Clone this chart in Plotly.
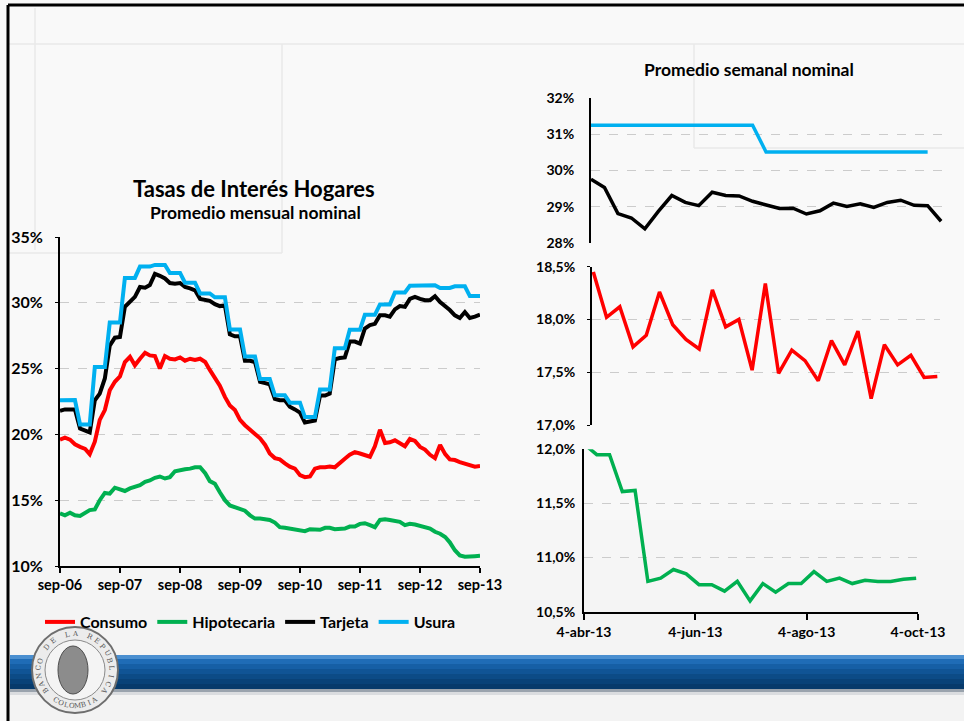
import numpy as np
import pandas as pd
import plotly.graph_objects as go

W, H = 964, 721

# --- monthly data (sep-06 .. sep-13), % nominal ---
meses = pd.date_range("2006-09-01", "2013-09-01", freq="MS")

consumo = [19.6, 19.75, 19.6, 19.25, 19.05, 18.9, 18.5, 19.45, 21.1, 21.85,
           23.35, 24.0, 24.4, 25.5, 25.9, 25.25, 25.75, 26.2, 26.0, 25.95,
           25.0, 25.95, 25.75, 25.7, 25.85, 25.6, 25.75, 25.65, 25.75, 25.5,
           24.9, 24.35, 23.7, 22.85, 22.2, 21.85, 21.1, 20.7, 20.35, 20.0,
           19.7, 19.2, 18.55, 18.2, 18.1, 17.8, 17.55, 17.4, 16.9, 16.75,
           16.8, 17.4, 17.5, 17.5, 17.55, 17.5, 17.85, 18.15, 18.45, 18.65,
           18.55, 18.45, 18.3, 19.1, 20.35, 19.35, 19.4, 19.55, 19.35, 19.1,
           19.65, 19.5, 19.05, 18.85, 18.45, 18.2, 19.2, 18.5, 18.1, 18.05,
           17.9, 17.8, 17.65, 17.55, 17.6]

hipotecaria = [14.0, 13.85, 14.05, 13.85, 13.8, 14.0, 14.25, 14.3, 15.0, 15.55,
               15.5, 15.95, 15.8, 15.7, 15.9, 16.0, 16.15, 16.4, 16.5, 16.7,
               16.8, 16.65, 16.75, 17.2, 17.3, 17.35, 17.4, 17.5, 17.5, 17.05,
               16.45, 16.25, 15.6, 15.0, 14.6, 14.45, 14.3, 14.2, 13.85, 13.6,
               13.6, 13.55, 13.5, 13.3, 12.95, 12.9, 12.85, 12.8, 12.75, 12.65,
               12.8, 12.8, 12.75, 12.9, 12.9, 12.8, 12.8, 12.85, 13.0, 13.0,
               13.2, 13.25, 13.1, 12.95, 13.5, 13.55, 13.5, 13.45, 13.35, 13.1,
               13.2, 13.15, 13.05, 12.95, 12.85, 12.6, 12.45, 12.2, 11.8, 11.2,
               10.8, 10.7, 10.7, 10.75, 10.78]

tarjeta = [21.8, 21.9, 21.9, 21.9, 20.45, 20.25, 20.15, 22.6, 23.1, 24.25,
           26.75, 27.35, 27.4, 29.7, 30.05, 30.45, 31.2, 31.15, 31.35, 32.2,
           32.05, 31.85, 31.5, 31.45, 31.5, 31.2, 31.1, 30.95, 30.3, 30.25,
           30.15, 29.9, 29.75, 29.8, 27.6, 27.45, 27.45, 25.6, 25.6, 25.5,
           24.0, 23.9, 23.8, 22.7, 22.6, 22.6, 22.1, 21.9, 21.65, 20.9,
           20.95, 21.05, 22.95, 22.95, 23.1, 25.7, 25.8, 25.85, 27.05, 27.05,
           26.9, 28.05, 28.3, 28.4, 29.05, 29.05, 28.95, 29.5, 29.75, 29.7,
           30.3, 30.45, 30.3, 30.2, 30.2, 30.5, 30.05, 29.75, 29.45, 29.05,
           28.85, 29.3, 28.85, 28.95, 29.1]

usura = [22.6, 22.61, 22.61, 22.61, 20.75, 20.75, 20.75, 25.12, 25.12, 25.12,
         28.51, 28.51, 28.51, 31.89, 31.89, 31.89, 32.75, 32.75, 32.75, 32.88,
         32.88, 32.88, 32.27, 32.27, 32.27, 31.53, 31.53, 31.53, 30.71, 30.71,
         30.71, 30.42, 30.42, 30.42, 27.98, 27.98, 27.98, 25.92, 25.92, 25.92,
         24.21, 24.21, 24.21, 22.97, 22.97, 22.97, 22.41, 22.41, 22.41, 21.32,
         21.32, 21.32, 23.42, 23.42, 23.42, 26.54, 26.54, 26.54, 27.95, 27.95,
         27.95, 29.09, 29.09, 29.09, 29.88, 29.88, 29.88, 30.78, 30.78, 30.78,
         31.29, 31.29, 31.29, 31.34, 31.34, 31.34, 31.13, 31.13, 31.13, 31.25,
         31.25, 31.25, 30.51, 30.51, 30.51]

anios = ["2006-09-01", "2007-09-01", "2008-09-01", "2009-09-01",
         "2010-09-01", "2011-09-01", "2012-09-01", "2013-09-01"]
anios_txt = ["sep-06", "sep-07", "sep-08", "sep-09", "sep-10", "sep-11", "sep-12", "sep-13"]

# --- weekly data (4-abr-13 .. oct-13) ---
semanas = pd.date_range("2013-04-04", periods=27, freq="7D")

usura_sem = [31.25, 31.25, 31.25, 31.25, 31.25, 31.25, 31.25, 31.25, 31.25,
             31.25, 31.25, 31.25, 31.25, 30.51, 30.51, 30.51, 30.51, 30.51,
             30.51, 30.51, 30.51, 30.51, 30.51, 30.51, 30.51, 30.51]
tarjeta_sem = [29.76, 29.53, 28.81, 28.69, 28.39, 28.87, 29.31, 29.12, 29.03,
               29.4, 29.31, 29.3, 29.15, 29.06, 28.95, 28.96, 28.8, 28.89,
               29.1, 29.01, 29.08, 28.98, 29.12, 29.18, 29.04, 29.03, 28.6]
consumo_sem = [18.45, 18.02, 18.12, 17.74, 17.85, 18.26, 17.95, 17.81, 17.72,
               18.28, 17.93, 18.0, 17.52, 18.34, 17.49, 17.71, 17.61, 17.42,
               17.8, 17.57, 17.89, 17.25, 17.76, 17.57, 17.66, 17.45, 17.46]
hipotecaria_sem = [12.05, 11.95, 11.95, 11.61, 11.62, 10.78, 10.81, 10.89, 10.85,
                   10.75, 10.75, 10.69, 10.78, 10.60, 10.76, 10.68, 10.76, 10.76,
                   10.87, 10.78, 10.81, 10.76, 10.79, 10.78, 10.78, 10.80, 10.81]

fechas_tick = ["2013-04-04", "2013-06-04", "2013-08-04", "2013-10-04"]
fechas_txt = ["4-abr-13", "4-jun-13", "4-ago-13", "4-oct-13"]

ROJO, VERDE, NEGRO, AZUL = "#ff0000", "#00b050", "#000000", "#00b0f0"
FONT = "Lato"


def px_x(p):
    return p / W


def px_y(p):
    return 1 - p / H


def texto(fig, s, x, y, size, **kw):
    fig.add_annotation(text=s, x=px_x(x), y=px_y(y), xref="paper", yref="paper",
                       xanchor="center", yanchor="middle", showarrow=False,
                       font=dict(family=FONT, size=size, color="black", weight="bold"), **kw)


fig = go.Figure()

# left chart
for nombre, serie, color in [("Consumo", consumo, ROJO), ("Hipotecaria", hipotecaria, VERDE),
                             ("Tarjeta", tarjeta, NEGRO), ("Usura", usura, AZUL)]:
    fig.add_trace(go.Scatter(x=meses, y=serie, name=nombre, mode="lines",
                             line=dict(color=color, width=4), xaxis="x", yaxis="y"))

# right panels
fig.add_trace(go.Scatter(x=semanas[:len(usura_sem)], y=usura_sem, mode="lines", showlegend=False,
                         line=dict(color=AZUL, width=3.5), xaxis="x2", yaxis="y2"))
fig.add_trace(go.Scatter(x=semanas, y=tarjeta_sem, mode="lines", showlegend=False,
                         line=dict(color=NEGRO, width=3.5), xaxis="x2", yaxis="y2"))
fig.add_trace(go.Scatter(x=semanas, y=consumo_sem, mode="lines", showlegend=False,
                         line=dict(color=ROJO, width=3.5), xaxis="x3", yaxis="y3"))
fig.add_trace(go.Scatter(x=semanas, y=hipotecaria_sem, mode="lines", showlegend=False,
                         line=dict(color=VERDE, width=3.5), xaxis="x4", yaxis="y4"))

tickfont = dict(family=FONT, size=16, color="black", weight="bold")
tickfont_x = dict(family=FONT, size=14.5, color="black", weight="bold")
tickfont_r = dict(family=FONT, size=14, color="black", weight="bold")
grid = dict(showgrid=True, gridcolor="#cccccc", griddash="dash", gridwidth=1, zeroline=False,
            showline=True, linecolor="black", linewidth=2, automargin=False)

fig.update_layout(
    width=W, height=H,
    margin=dict(l=0, r=0, t=0, b=0, autoexpand=False),
    paper_bgcolor="#f9f9f9",
    plot_bgcolor="rgba(0,0,0,0)",
    separators=",.",
    font=dict(family=FONT, color="black"),
    xaxis=dict(domain=[px_x(60), px_x(480)], type="date",
               range=["2006-09-01", "2013-09-01"],
               tickvals=anios, ticktext=anios_txt, tickfont=tickfont_x,
               showline=True, linecolor="black", linewidth=2, showgrid=False, zeroline=False,
               ticks="outside", ticklen=5, tickwidth=1.5, tickcolor="black", anchor="y",
               automargin=False),
    yaxis=dict(domain=[px_y(566), px_y(237)], range=[10, 35], dtick=5, ticksuffix="%",
               tickfont=tickfont, ticks="outside", ticklen=3, tickcolor="black",
               ticklabelstandoff=9, anchor="x", **grid),
    xaxis2=dict(domain=[px_x(591), px_x(948)], type="date",
                range=["2013-04-04", "2013-10-06 14:00"], visible=False, anchor="y2",
                automargin=False),
    yaxis2=dict(domain=[px_y(243), px_y(98)], range=[28, 32], dtick=1, ticksuffix="%",
                tickfont=tickfont_r, ticks="", ticklabelstandoff=12, anchor="x2", **grid),
    xaxis3=dict(domain=[px_x(592), px_x(940)], type="date",
                range=["2013-04-03 07:00", "2013-10-04 10:00"], visible=False, anchor="y3",
                automargin=False),
    yaxis3=dict(domain=[px_y(425), px_y(266.7)], range=[17, 18.5], dtick=0.5, tickformat=".1f",
                ticksuffix="%", tickfont=tickfont_r, ticks="outside", ticklen=3, tickcolor="black",
                ticklabelstandoff=9, anchor="x3", **grid),
    xaxis4=dict(domain=[px_x(584), px_x(918)], type="date",
                range=["2013-04-04", "2013-10-04"],
                tickvals=fechas_tick, ticktext=fechas_txt, tickfont=tickfont_r,
                showline=True, linecolor="black", linewidth=2, showgrid=False, zeroline=False,
                ticks="outside", ticklen=6, tickwidth=1.5, tickcolor="black", anchor="y4",
                automargin=False),
    yaxis4=dict(domain=[px_y(611.7), px_y(449.3)], range=[10.5, 12.0], dtick=0.5, tickformat=".1f",
                ticksuffix="%", tickfont=tickfont_r, ticks="", ticklabelstandoff=4,
                anchor="x4", **grid),
    legend=dict(orientation="h", x=px_x(40), y=px_y(605), xanchor="left", yanchor="top",
                font=dict(family=FONT, size=16, color="black", weight="bold"),
                bgcolor="rgba(0,0,0,0)", itemwidth=30, tracegroupgap=0),
)

# titles
texto(fig, "Tasas de Interés Hogares", 254, 188, 22)
texto(fig, "Promedio mensual nominal", 255, 213, 17.5)
texto(fig, "Promedio semanal nominal", 749, 70, 17.5)

shapes = []
# slightly greyer lower part of the slide (soft steps)
for y0, y1, c in [(480, 520, "#f8f8f8"), (520, 560, "#f6f6f6"), (560, 600, "#f5f5f5"),
                  (600, 655, "#f4f4f4"), (695, 721, "#f3f3f3")]:
    shapes.append(dict(type="rect", xref="paper", yref="paper", x0=px_x(8), x1=1,
                       y0=px_y(y1), y1=px_y(y0), fillcolor=c, line=dict(width=0), layer="below"))
# faint slide background lines
for x0, y0, x1, y1 in [(35, 8, 35, 250), (8, 44, 964, 44), (8, 253, 282, 253),
                       (282, 44, 282, 253), (694, 44, 694, 148), (694, 148, 964, 148)]:
    shapes.append(dict(type="line", xref="paper", yref="paper", x0=px_x(x0), y0=px_y(y0),
                       x1=px_x(x1), y1=px_y(y1), line=dict(color="#e9e9e9", width=1.5),
                       layer="below"))

# blue banner (stepped gradient)
bandas = [(655, 659, "#4a8fd0"), (659, 664, "#1f6cb6"), (664, 669, "#165fa5"),
          (669, 674, "#105495"), (674, 679, "#0c4b86"), (679, 684, "#094278"),
          (684, 689, "#073a6b"), (689, 692, "#9aa3ad"), (692, 695, "#dadcdf")]
for y0, y1, c in bandas:
    shapes.append(dict(type="rect", xref="paper", yref="paper", x0=px_x(10), x1=1,
                       y0=px_y(y1), y1=px_y(y0), fillcolor=c, line=dict(width=0), layer="below"))

# slide border (top and left)
shapes.append(dict(type="line", xref="paper", yref="paper", x0=px_x(8), x1=1,
                   y0=px_y(5), y1=px_y(5), line=dict(color="black", width=3)))
shapes.append(dict(type="line", xref="paper", yref="paper", x0=px_x(8), x1=px_x(8),
                   y0=px_y(5), y1=0, line=dict(color="black", width=3)))

# logo
cx, cy, r = 75, 670, 43
shapes.append(dict(type="circle", xref="paper", yref="paper", x0=px_x(cx - r), x1=px_x(cx + r),
                   y0=px_y(cy + r), y1=px_y(cy - r), fillcolor="#ececec",
                   line=dict(color="#6e6e6e", width=2)))
shapes.append(dict(type="circle", xref="paper", yref="paper", x0=px_x(cx - 30), x1=px_x(cx + 30),
                   y0=px_y(cy + 30), y1=px_y(cy - 30), fillcolor="#f4f4f4",
                   line=dict(color="#8a8a8a", width=1)))
shapes.append(dict(type="circle", xref="paper", yref="paper", x0=px_x(cx - 17), x1=px_x(cx + 13),
                   y0=px_y(cy + 24), y1=px_y(cy - 24), fillcolor="#8c8c8c",
                   line=dict(color="#4d4d4d", width=1)))
fig.update_layout(shapes=shapes)

# logo lettering
arriba = "BANCO DE LA REPUBLICA"
for i, ch in enumerate(arriba):
    ang = np.radians(215 - i * 250 / (len(arriba) - 1))
    fig.add_annotation(text=ch, x=px_x(cx + 36 * np.cos(ang)), y=px_y(cy - 36 * np.sin(ang)),
                       xref="paper", yref="paper", xanchor="center", yanchor="middle",
                       showarrow=False, textangle=90 - np.degrees(ang),
                       font=dict(family="DejaVu Serif", size=7, color="#555555"))
abajo = "COLOMBIA"
for i, ch in enumerate(abajo):
    ang = np.radians(237 + i * 66 / (len(abajo) - 1))
    fig.add_annotation(text=ch, x=px_x(cx + 36 * np.cos(ang)), y=px_y(cy - 36 * np.sin(ang)),
                       xref="paper", yref="paper", xanchor="center", yanchor="middle",
                       showarrow=False, textangle=270 - np.degrees(ang),
                       font=dict(family="DejaVu Serif", size=7, color="#555555"))

# page has a default body margin; remove it so the figure sits at (0, 0)
fig.write_html("out.html", config={"displayModeBar": False},
               post_script="document.body.style.margin='0';"
                           "document.body.style.overflow='hidden';")
